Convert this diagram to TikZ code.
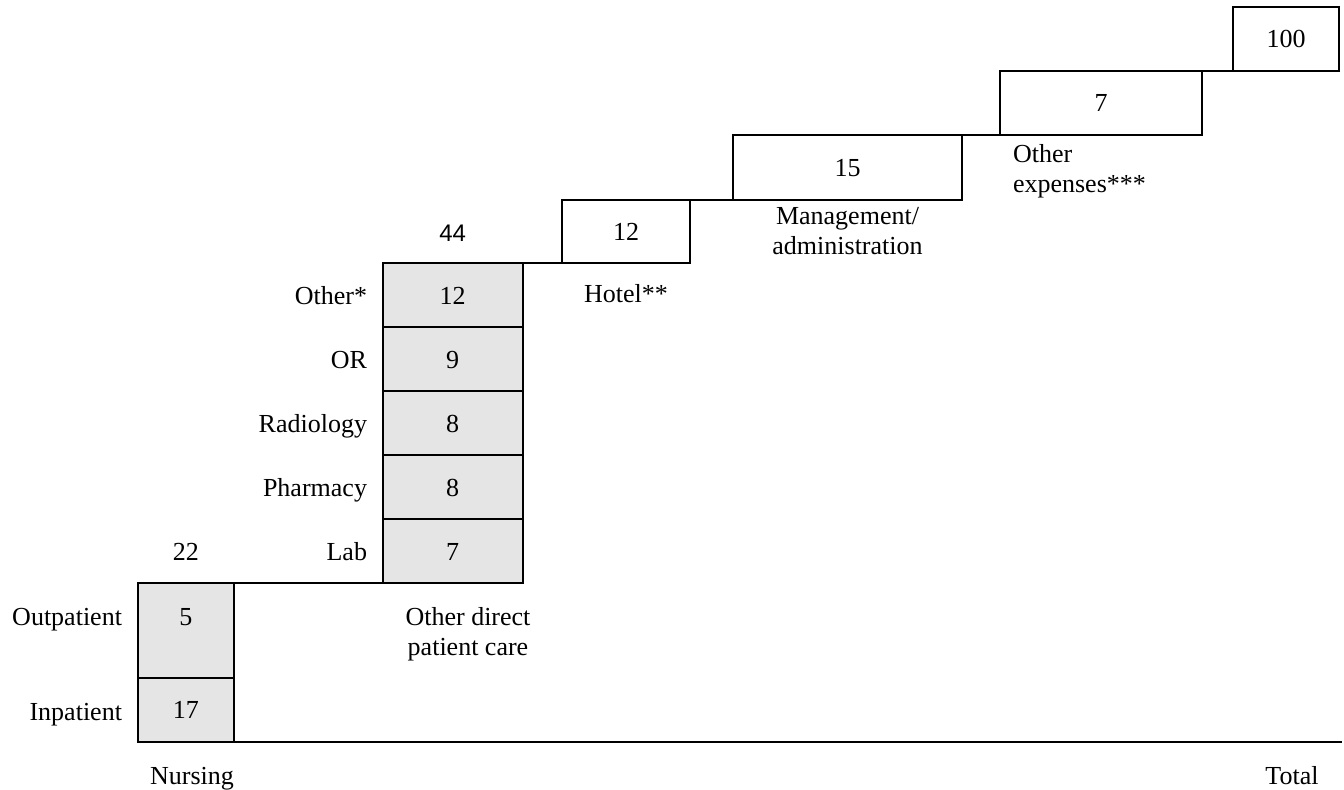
\documentclass[tikz,border=0pt]{standalone}
\usepackage{fontspec}
\setmainfont{Liberation Serif}
\newfontfamily\sansfont{Liberation Sans}
\begin{document}
\begin{tikzpicture}[x=0.5pt,y=-0.5pt,line width=1pt,
  every node/.style={font=\fontsize{13}{15}\selectfont,inner sep=0pt,outer sep=0pt},
  sz/.style 2 args={minimum width=#1*0.5pt,minimum height=#2*0.5pt},
  box/.style={draw,rectangle,text height=8.8pt,text depth=0pt},
  greybox/.style={box,fill=black!10},
  lbl/.style={anchor=base east},
  num/.style={anchor=base}]
\useasboundingbox (0,0) rectangle (1344,790);
% Nursing
\node[greybox,sz={96.5}{94.5}] (outp) at (185.75,630.75) {};
\node[greybox,sz={96.5}{64}] (inp) at (185.75,710) {17};
\node[num] (n5) at (185.75,625) {5};
\node[num] (n22) at (185.75,561) {22};
\node[lbl] (loutp) at (122,625) {Outpatient};
\node[lbl] (linp) at (122,720) {Inpatient};
\node[num] (lnurs) at (192,784) {Nursing};
% Other direct patient care
\node[greybox,sz={140}{64}] (other) at (452.7,295.5) {12};
\node[greybox,sz={140}{64}] (or) at (452.7,359.5) {9};
\node[greybox,sz={140}{64}] (rad) at (452.7,423.5) {8};
\node[greybox,sz={140}{64}] (pha) at (452.7,487.5) {8};
\node[greybox,sz={140}{64}] (lab) at (452.7,551.5) {7};
\node[lbl] (lother) at (367,305) {Other*};
\node[lbl] (lor) at (367,369) {OR};
\node[lbl] (lrad) at (367,433) {Radiology};
\node[lbl] (lpha) at (367,497) {Pharmacy};
\node[lbl] (llab) at (367,561) {Lab};
\node[num,font=\sansfont\fontsize{12}{14}\selectfont] (n44) at (452.7,241.7) {44};
\node[anchor=north,align=center] (lodc) at (468,607.5) {Other direct\\patient care};
% Hotel
\node[box,sz={128}{63.5}] (hotel) at (626,231.75) {12};
\node[num] (lhotel) at (626,303) {Hotel**};
% Management
\node[box,sz={229}{65}] (mgmt) at (847.5,167.5) {15};
\node[anchor=north,align=center] (lmgmt) at (847.5,207.5) {Management/\\administration};
% Other expenses
\node[box,sz={202}{64}] (oexp) at (1101,103) {7};
\node[anchor=north west,align=left] (loexp) at (1013,144.5) {Other\\expenses***};
% Total
\node[box,sz={106}{64}] (tot) at (1286,39) {100};
\node[num] (ltot) at (1292,784) {Total};
% connectors
\coordinate (axisend) at (1342,742);
\draw (inp.south west) -- (axisend);
\draw (outp.north west) -- (lab.south east);
\draw (other.north west) -- (hotel.south east);
\draw (hotel.north west) -- (mgmt.south east);
\draw (mgmt.north west) -- (oexp.south east);
\draw (oexp.north west) -- (tot.south east);
\end{tikzpicture}
\end{document}
